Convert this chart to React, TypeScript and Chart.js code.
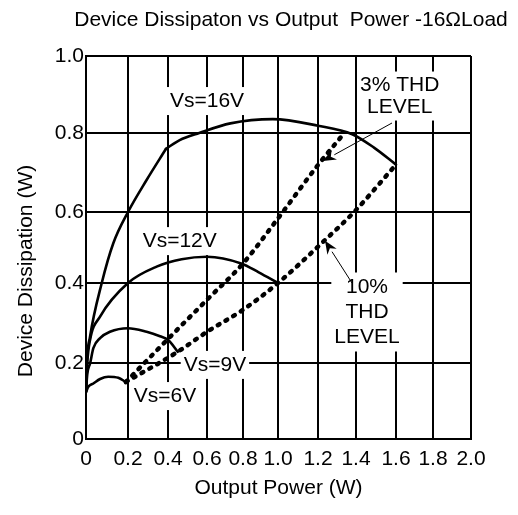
import React, { useEffect, useRef } from 'react';
import { Chart, LinearScale, registerables } from 'chart.js';

// ---------------- data ----------------
const xTickLabels = ['0', '0.2', '0.4', '0.6', '0.8', '1.0', '1.2', '1.4', '1.6', '1.8', '2.0'];
const yTickLabels = ['0', '0.2', '0.4', '0.6', '0.8', '1.0'];

const vs6X = [0, 0.012, 0.035, 0.067, 0.106, 0.154, 0.19];
const vs6Y = [0.124, 0.138, 0.146, 0.158, 0.164, 0.161, 0.15];

const vs9X = [0, 0.006, 0.02, 0.035, 0.067, 0.114, 0.2, 0.293, 0.36, 0.4, 0.45];
const vs9Y = [0.124, 0.17, 0.2, 0.237, 0.262, 0.278, 0.287, 0.278, 0.267, 0.258, 0.228];

const vs12X = [0, 0.006, 0.019, 0.067, 0.2, 0.343, 0.47, 0.6, 0.79, 0.89, 1.0];
const vs12Y = [0.124, 0.2, 0.257, 0.316, 0.4, 0.446, 0.467, 0.474, 0.455, 0.43, 0.4];

const vs16LowX = [0, 0.004, 0.019, 0.075, 0.13, 0.2, 0.293, 0.39];
const vs16LowY = [0.124, 0.2, 0.265, 0.4, 0.512, 0.6, 0.681, 0.76];
const vs16HighX = [0.39, 0.46, 0.56, 0.73, 0.97, 1.2, 1.38, 1.49, 1.6];
const vs16HighY = [0.76, 0.782, 0.8, 0.825, 0.836, 0.819, 0.797, 0.763, 0.72];

const thd3X = [0.19, 0.4, 0.6, 0.8, 1.0, 1.2, 1.33];
const thd3Y = [0.15, 0.26, 0.358, 0.455, 0.582, 0.719, 0.795];

const thd10X = [0.19, 0.45, 0.6, 0.8, 1.0, 1.237, 1.39, 1.6];
const thd10Y = [0.15, 0.228, 0.278, 0.333, 0.4, 0.521, 0.6, 0.72];

const TITLE = 'Device Dissipaton vs Output  Power -16\u03A9Load';
const X_TITLE = 'Output Power (W)';
const Y_TITLE = 'Device Dissipation (W)';

// labels anchored in data units
const LABELS = [
  { lines: ['Vs=16V'], x: 0.6, y: 0.883, gap: 24 },
  { lines: ['Vs=12V'], x: 0.46, y: 0.518, gap: 24 },
  { lines: ['Vs=9V'], x: 0.644, y: 0.195, gap: 24 },
  { lines: ['Vs=6V'], x: 0.385, y: 0.113, gap: 24 },
  { lines: ['3% THD', 'LEVEL'], x: 1.62, y: 0.896, gap: 22.5 },
  { lines: ['10%', 'THD', 'LEVEL'], x: 1.455, y: 0.3275, gap: 25 },
];
const ARROWS = [
  { fromX: 1.58, fromY: 0.826, toX: 1.226, toY: 0.729 },
  { fromX: 1.379, fromY: 0.4, toX: 1.237, toY: 0.519 },
];

// ---------------- layout (non-uniform grid of the original sheet) ----------------
const X_GRID_FRAC = [0, 42, 82, 121, 157, 192, 232, 270, 310, 347, 385].map((p) => p / 385);
const Y_GRID_FRAC = [0, 76, 156, 227, 306, 383].map((p) => p / 383);
const FONT = "'Liberation Sans', Arial, sans-serif";
const FS = 21;

function interp(xs: number[], ys: number[], v: number) {
  const n = xs.length;
  let i = 0;
  if (v <= xs[0]) i = 0;
  else if (v >= xs[n - 1]) i = n - 2;
  else {
    while (i < n - 2 && v > xs[i + 1]) i++;
  }
  const t = (v - xs[i]) / (xs[i + 1] - xs[i]);
  return ys[i] + t * (ys[i + 1] - ys[i]);
}

const WARPS: Record<string, { vals: number[]; fracs: number[] }> = {
  x: { vals: xTickLabels.map(Number), fracs: X_GRID_FRAC },
  y: { vals: yTickLabels.map(Number), fracs: Y_GRID_FRAC },
};

class WarpedLinearScale extends LinearScale {
  static id = 'warpedLinear';
  static defaults = { ticks: { callback: (v: any) => String(v) } };
  getPixelForValue(value: any) {
    if (value === null || value === undefined || isNaN(value)) return NaN;
    const w = WARPS[(this as any).id];
    if (!w) return super.getPixelForValue(value);
    return this.getPixelForDecimal(interp(w.vals, w.fracs, value));
  }
  getValueForPixel(pixel: number) {
    const w = WARPS[(this as any).id];
    const d = this.getDecimalForPixel(pixel);
    if (!w) return super.getValueForPixel(pixel);
    return interp(w.fracs, w.vals, d);
  }
}

Chart.register(...registerables, WarpedLinearScale as any);

function series(label: string, xs: number[], ys: number[], dotted: boolean) {
  return {
    label,
    data: xs.map((x, i) => ({ x, y: ys[i] })),
    borderColor: '#000',
    backgroundColor: '#000',
    borderWidth: dotted ? 4.5 : 2.6,
    borderDash: dotted ? [2, 7] : [],
    borderCapStyle: 'round',
    borderJoinStyle: 'round',
    pointRadius: 0,
    fill: false,
    cubicInterpolationMode: 'monotone',
  };
}

const annotPlugin = {
  id: 'annot',
  beforeDatasetsDraw(chart: any) {
    const { ctx, scales } = chart;
    ctx.save();
    ctx.font = `${FS}px ${FONT}`;
    ctx.fillStyle = '#fff';
    for (const l of LABELS) {
      const cx = scales.x.getPixelForValue(l.x);
      const cy = scales.y.getPixelForValue(l.y);
      const w = Math.max(...l.lines.map((s) => ctx.measureText(s).width));
      const h = l.lines.length * l.gap;
      ctx.fillRect(cx - w / 2 - 3, cy - h / 2 - 2, w + 6, h + 4);
    }
    ctx.restore();
  },
  afterDatasetsDraw(chart: any) {
    const { ctx, scales } = chart;
    ctx.save();
    ctx.font = `${FS}px ${FONT}`;
    ctx.fillStyle = '#000';
    ctx.textAlign = 'center';
    ctx.textBaseline = 'middle';
    for (const l of LABELS) {
      const cx = scales.x.getPixelForValue(l.x);
      const cy = scales.y.getPixelForValue(l.y);
      const n = l.lines.length;
      l.lines.forEach((s, i) => {
        ctx.fillText(s, cx, cy + (i - (n - 1) / 2) * l.gap);
      });
    }
    // arrows
    ctx.strokeStyle = '#000';
    ctx.lineWidth = 1;
    for (const a of ARROWS) {
      const x1 = scales.x.getPixelForValue(a.fromX);
      const y1 = scales.y.getPixelForValue(a.fromY);
      const x2 = scales.x.getPixelForValue(a.toX);
      const y2 = scales.y.getPixelForValue(a.toY);
      const ang = Math.atan2(y2 - y1, x2 - x1);
      const hl = 13;
      const hw = 5.5;
      const bx = x2 - hl * Math.cos(ang);
      const by = y2 - hl * Math.sin(ang);
      ctx.beginPath();
      ctx.moveTo(x1, y1);
      ctx.lineTo(bx, by);
      ctx.stroke();
      ctx.beginPath();
      ctx.moveTo(x2, y2);
      ctx.lineTo(bx + hw * Math.sin(ang), by - hw * Math.cos(ang));
      ctx.lineTo(x2 - (hl - 4) * Math.cos(ang), y2 - (hl - 4) * Math.sin(ang));
      ctx.lineTo(bx - hw * Math.sin(ang), by + hw * Math.cos(ang));
      ctx.closePath();
      ctx.fill();
    }
    ctx.restore();
  },
  afterDraw(chart: any) {
    const { ctx } = chart;
    ctx.save();
    ctx.font = `${FS}px ${FONT}`;
    ctx.fillStyle = '#000';
    ctx.textAlign = 'center';
    ctx.textBaseline = 'middle';
    ctx.fillText(TITLE, 291, 20);
    ctx.translate(26, 271);
    ctx.rotate(-Math.PI / 2);
    ctx.fillText(Y_TITLE, 0, 0);
    ctx.restore();
  },
};

export default function App() {
  const ref = useRef<HTMLCanvasElement | null>(null);
  useEffect(() => {
    if (!ref.current) return;
    const font = { family: FONT, size: FS };
    const chart = new Chart(ref.current, {
      type: 'line',
      data: {
        datasets: [
          series('Vs=6V', vs6X, vs6Y, false),
          series('Vs=9V', vs9X, vs9Y, false),
          series('Vs=12V', vs12X, vs12Y, false),
          series('Vs=16V', vs16LowX, vs16LowY, false),
          series('Vs=16V ', vs16HighX, vs16HighY, false),
          series('3% THD', thd3X, thd3Y, true),
          series('10% THD', thd10X, thd10Y, true),
        ] as any,
      },
      options: {
        responsive: false,
        animation: false,
        devicePixelRatio: 1,
        layout: { autoPadding: false, padding: { left: 0, right: 47, top: 56, bottom: 0 } } as any,
        plugins: {
          legend: { display: false },
          tooltip: { enabled: false },
          title: { display: false },
        },
        scales: {
          x: {
            type: 'warpedLinear' as any,
            position: 'bottom',
            min: 0,
            max: 2,
            afterFit: (s: any) => {
              s.height = 76;
            },
            afterBuildTicks: (s: any) => {
              s.ticks = xTickLabels.map((t) => ({ value: Number(t) }));
            },
            grid: { color: '#000', lineWidth: 2, drawTicks: false },
            border: { color: '#000', width: 2 },
            ticks: {
              color: '#000',
              font,
              padding: 8,
              maxRotation: 0,
              autoSkip: false,
              callback: (_v: any, i: number) => xTickLabels[i],
            },
            title: {
              display: true,
              text: X_TITLE,
              color: '#000',
              font,
              padding: { top: 0, bottom: 14 },
            },
          } as any,
          y: {
            type: 'warpedLinear' as any,
            position: 'left',
            min: 0,
            max: 1,
            afterFit: (s: any) => {
              s.width = 86;
            },
            afterBuildTicks: (s: any) => {
              s.ticks = yTickLabels.map((t) => ({ value: Number(t) }));
            },
            grid: { color: '#000', lineWidth: 2, drawTicks: false },
            border: { color: '#000', width: 2 },
            ticks: {
              color: '#000',
              font,
              padding: 2,
              autoSkip: false,
              callback: (_v: any, i: number) => yTickLabels[i],
            },
            title: { display: false },
          } as any,
        },
      },
      plugins: [annotPlugin as any],
    });
    return () => chart.destroy();
  }, []);
  return (
    <div style={{ position: 'absolute', left: 0, top: 0, width: 518, height: 515, background: '#fff' }}>
      <canvas ref={ref} width={518} height={515} style={{ display: 'block' }} />
    </div>
  );
}
